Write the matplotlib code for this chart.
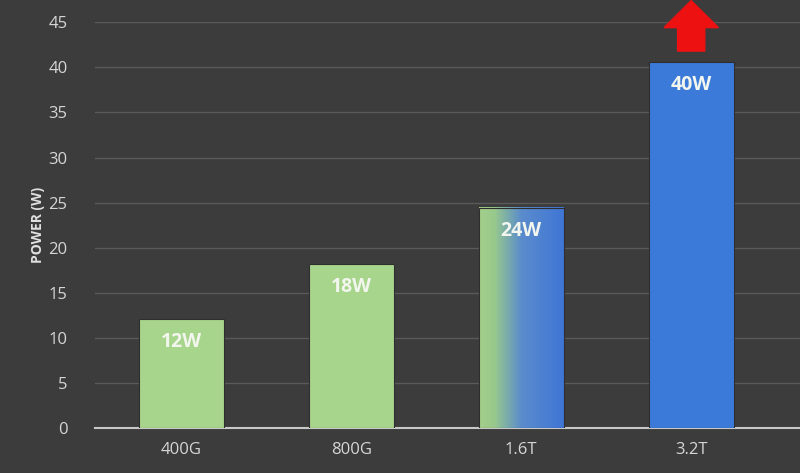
import numpy as np
import matplotlib.pyplot as plt
from matplotlib.patches import FancyArrow
from matplotlib.colors import LinearSegmentedColormap

categories = ['400G', '800G', '1.6T', '3.2T']
power = [12.1, 18.2, 24.4, 40.6]
labels = ['12W', '18W', '24W', '40W']

plt.rcParams['font.family'] = ['Open Sans', 'DejaVu Sans']

bg = '#3c3c3c'
green = '#a8d58c'
blue = '#3b7ad9'

fig = plt.figure(figsize=(8, 4.73), dpi=100, facecolor=bg)
ax = fig.add_axes([0.119, 0.095, 0.881, 0.858], facecolor=bg)

x = np.arange(len(categories))
w = 0.5
colors = [green, green, 'none', blue]
bars = ax.bar(x, power, width=w, color=colors, edgecolor='#2e2e2e', linewidth=0.8, zorder=3)

# gradient fill for the 1.6T bar
cmap = LinearSegmentedColormap.from_list('gb', [(0, '#a4cf8a'), (0.18, '#98c98c'), (0.5, '#5a8ccc'), (1, '#3f76d6')])
grad = np.linspace(0, 1, 256).reshape(1, -1)
b = bars[2]
ax.imshow(grad, cmap=cmap, aspect='auto', zorder=2.9,
          extent=[b.get_x(), b.get_x() + b.get_width(), 0, b.get_height()])

for bar, lab in zip(bars, labels):
    ax.text(bar.get_x() + bar.get_width() / 2, bar.get_height() - 1.4, lab,
            ha='center', va='top', color='#f2f6ee', fontsize=14, fontweight='bold', zorder=4)

# red arrow above the 3.2T bar
arr = FancyArrow(3.0, 41.8, 0, 5.6, width=0.16, head_width=0.32, head_length=3.0,
                 length_includes_head=True, color='#ee1111', clip_on=False, zorder=5)
ax.add_patch(arr)

ax.set_xlim(-0.506, 3.64)
ax.set_ylim(0, 45)
ax.set_yticks(np.arange(0, 46, 5))
ax.set_xticks(x)
ax.set_xticklabels(categories)
ax.grid(axis='y', color='#5a5a5a', linewidth=1, zorder=0)
ax.set_axisbelow(True)
for s in ['top', 'right', 'left']:
    ax.spines[s].set_visible(False)
ax.spines['bottom'].set_color('#c8c8c8')
ax.spines['bottom'].set_linewidth(1.5)
ax.tick_params(axis='both', length=0, colors='#d6d6d6', labelsize=12)
ax.tick_params(axis='y', pad=20)
ax.tick_params(axis='x', pad=10)
ax.set_ylabel('POWER (W)', color='#e0e0e0', fontsize=10, fontweight='bold', labelpad=2)

fig.savefig('out.png', dpi=100, facecolor=bg)
